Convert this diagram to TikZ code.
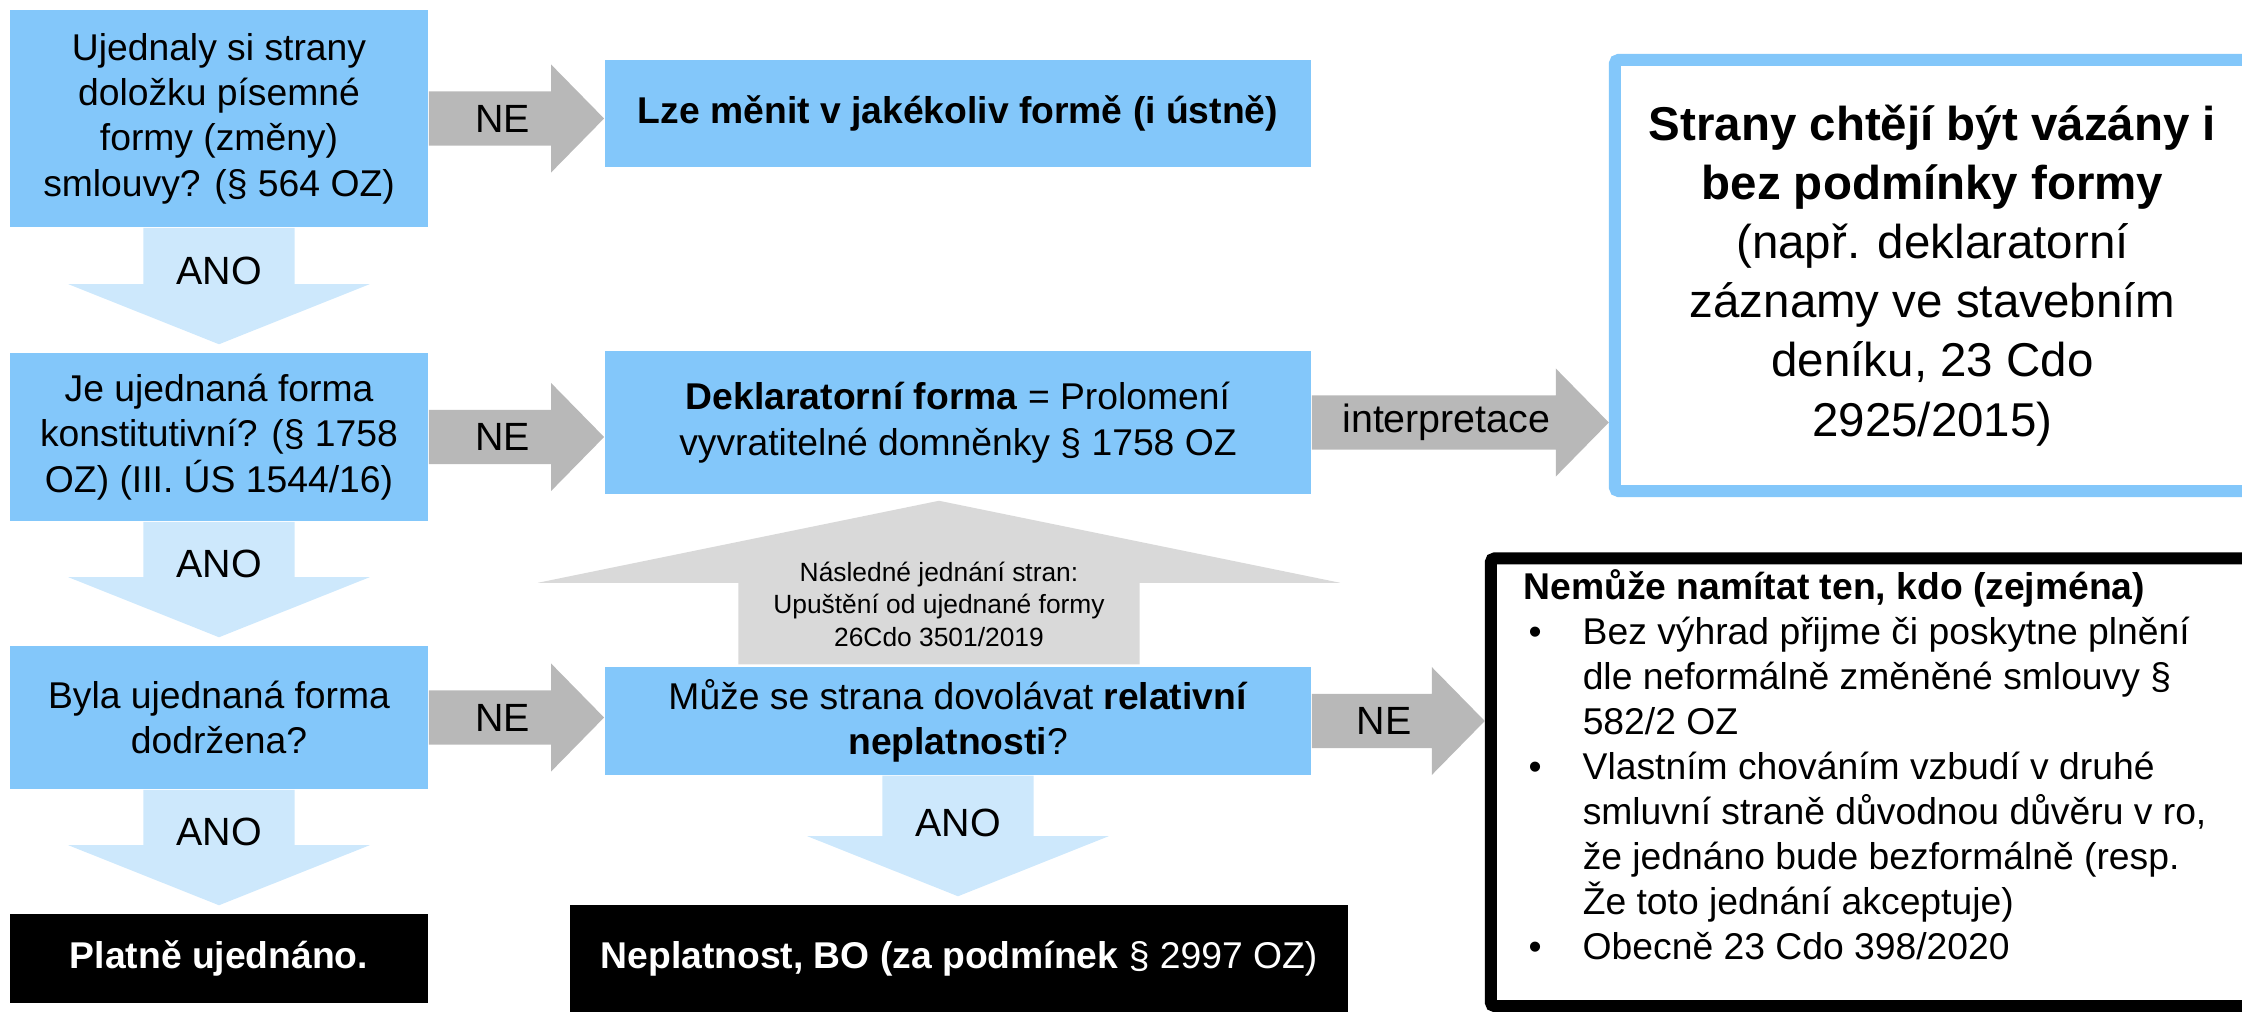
\documentclass[tikz,border=0pt]{standalone}
\usepackage{fontspec}
\setmainfont{Liberation Sans}
\usetikzlibrary{calc}

\definecolor{boxblue}{RGB}{131,199,250}
\definecolor{anoblue}{RGB}{205,232,252}
\definecolor{negray}{RGB}{184,184,184}
\definecolor{upgray}{RGB}{217,217,217}

% block arrow to the right, from one box to the next
\newcommand{\sipkaNE}[3]{%
  \fill[negray] let \p1=(#1.east), \p2=(#2.west) in
    (\x1,\y1+0.27cm) -- (\x2-0.53cm,\y1+0.27cm) -- (\x2-0.53cm,\y1+0.54cm)
    -- (\x2,\y1) -- (\x2-0.53cm,\y1-0.54cm) -- (\x2-0.53cm,\y1-0.27cm)
    -- (\x1,\y1-0.27cm) -- cycle;
  \path let \p1=(#1.east), \p2=(#2.west) in
    ({(\x1+\x2)/2-0.14cm},\y1) node[arrowlabel] (l-#1-#2) {#3};}

% block arrow downwards
\newcommand{\sipkaANO}[3]{%
  \fill[anoblue] let \p1=(#1.south), \p2=(#2.north) in
    (\x1-0.755cm,\y1) -- (\x1-0.755cm,\y2+0.68cm) -- (\x1-1.505cm,\y2+0.68cm)
    -- (\x1,\y2+0.08cm) -- (\x1+1.505cm,\y2+0.68cm) -- (\x1+0.755cm,\y2+0.68cm)
    -- (\x1+0.755cm,\y1) -- cycle;
  \path let \p1=(#1.south), \p2=(#2.north) in
    (\x1,\y2+0.81cm) node[arrowlabel] (l-#1-#2) {#3};}

\newcommand{\bul}{\makebox[0.59cm][l]{\hspace{0.05cm}\textbullet}}
\newcommand{\ind}{\hspace*{0.59cm}}

\begin{document}
\begin{tikzpicture}[x=0.01cm,y=-0.01cm,
    qbox/.style={fill=boxblue,inner sep=0pt,align=center,
      font=\fontsize{10.6}{12.9}\selectfont},
    endbox/.style={fill=black,text=white,inner sep=0pt,
      font=\fontsize{10.6}{12.9}\selectfont\bfseries},
    arrowlabel/.style={inner sep=0pt,font=\fontsize{11.2}{13.4}\selectfont}]
  \useasboundingbox (0,0) rectangle (2242,1012);
  \clip (0,0) rectangle (2242,1012);

  % left column: questions
  \node[qbox,minimum width=4.18cm,minimum height=2.17cm] (q1) at (219,118.5)
    {Ujednaly si strany\\doložku písemné\\formy (změny)\\smlouvy? (§ 564 OZ)};
  \node[qbox,minimum width=4.18cm,minimum height=1.68cm] (q2) at (219,437)
    {Je ujednaná forma\\konstitutivní? (§ 1758\\OZ) (III. ÚS 1544/16)};
  \node[qbox,minimum width=4.18cm,minimum height=1.43cm] (q3) at (219,717.5)
    {Byla ujednaná forma\\dodržena?};
  \node[endbox,minimum width=4.18cm,minimum height=0.89cm] (platne) at (219,958.5)
    {Platně ujednáno.};

  % middle column
  \node[qbox,minimum width=7.06cm,minimum height=1.07cm] (lze) at (958,113.5)
    {\textbf{Lze měnit v jakékoliv formě (i ústně)}};
  \node[qbox,minimum width=7.06cm,minimum height=1.43cm] (dekl) at (958,422.5)
    {\textbf{Deklaratorní forma} = Prolomení\\vyvratitelné domněnky § 1758 OZ};
  \node[qbox,minimum width=7.06cm,minimum height=1.08cm] (muze) at (958,721)
    {Může se strana dovolávat \textbf{relativní}\\\textbf{neplatnosti}?};
  \node[endbox,minimum width=7.78cm,minimum height=1.07cm] (neplat) at (959,958.5)
    {Neplatnost, BO (za podmínek {\mdseries § 2997 OZ)}};

  % right column
  \node[draw=boxblue,fill=white,line width=0.12cm,rounded corners=0.04cm,
    inner sep=0pt,align=center,minimum width=6.35cm,minimum height=4.31cm,
    font=\fontsize{13.5}{16.8}\selectfont] (strany) at (1932.5,275.5)
    {\textbf{Strany chtějí být vázány i}\\\textbf{bez podmínky formy}\\(např. deklaratorní\\záznamy ve stavebním\\deníku, 23 Cdo\\2925/2015)};
  \node[draw=black,line width=0.12cm,rounded corners=0.04cm,
    minimum width=7.79cm,minimum height=4.475cm] (nemuzebox) at (1880.5,782.25) {};
  \node[anchor=west,align=left,inner sep=0pt,
    font=\fontsize{10.6}{12.8}\selectfont] (nemuze) at (1523,765)
    {\textbf{Nemůže namítat ten, kdo (zejména)}\\
     \bul Bez výhrad přijme či poskytne plnění\\
     \ind dle neformálně změněné smlouvy §\\
     \ind 582/2 OZ\\
     \bul Vlastním chováním vzbudí v druhé\\
     \ind smluvní straně důvodnou důvěru v ro,\\
     \ind že jednáno bude bezformálně (resp.\\
     \ind Že toto jednání akceptuje)\\
     \bul Obecně 23 Cdo 398/2020};

  % arrows
  \sipkaNE{q1}{lze}{NE}
  \sipkaNE{q2}{dekl}{NE}
  \sipkaNE{q3}{muze}{NE}
  \sipkaNE{muze}{nemuzebox}{NE}
  \sipkaNE{dekl}{strany}{interpretace}
  \sipkaANO{q1}{q2}{ANO}
  \sipkaANO{q2}{q3}{ANO}
  \sipkaANO{q3}{platne}{ANO}
  \sipkaANO{muze}{neplat}{ANO}

  % arrow up: Nasledne jednani
  \coordinate (upx) at (939,604);
  \fill[upgray] let \p1=(muze.north), \p2=(dekl.south), \p3=(upx) in
    (\x3-2.005cm,\y1+0.02cm) -- (\x3-2.005cm,\y2-0.88cm) -- (\x3-4.01cm,\y2-0.88cm)
    -- (\x3,\y2-0.06cm) -- (\x3+4.01cm,\y2-0.88cm) -- (\x3+2.005cm,\y2-0.88cm)
    -- (\x3+2.005cm,\y1+0.02cm) -- cycle;
  \node[align=center,inner sep=0pt,font=\fontsize{7.5}{9.25}\selectfont] (nasl) at (upx)
    {Následné jednání stran:\\Upuštění od ujednané formy\\26Cdo 3501/2019};
\end{tikzpicture}
\end{document}
